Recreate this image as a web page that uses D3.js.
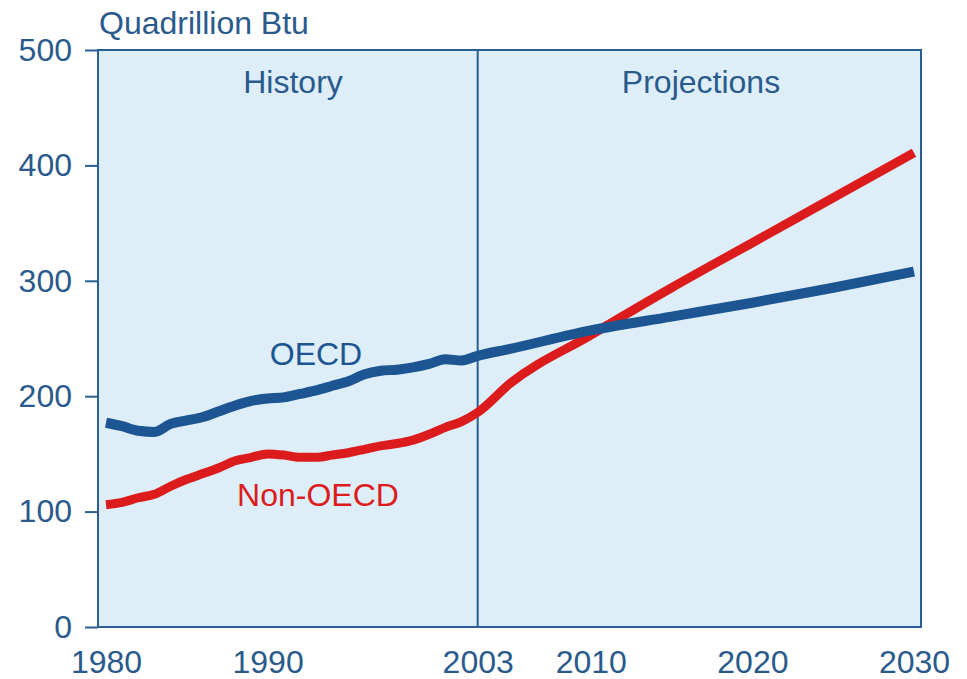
<!DOCTYPE html>
<html lang="en">
<head>
<meta charset="utf-8">
<style>
  body { margin: 0; background: white; }
  svg { font-family: "Liberation Sans", Arial, sans-serif; }
  .axis text { fill: #2a5a8c; font-size: 32px; }
  .axis path, .axis line { stroke: #2a5f93; stroke-width: 2px; }
  .label { font-size: 32px; }
  path.line { fill: none; stroke-linejoin: round; stroke-linecap: butt; }
</style>
</head>
<body>
<svg width="967" height="679"></svg>
<script src="https://d3js.org/d3.v7.min.js"></script>
<script>
  const years = [1980, 1981, 1982, 1983, 1984, 1985, 1986, 1987, 1988, 1989,
                 1990, 1991, 1992, 1993, 1994, 1995, 1996, 1997, 1998, 1999,
                 2000, 2001, 2002, 2003, 2005, 2010, 2015, 2020, 2025, 2030]
  const oecd = [177, 174, 170, 169, 176, 179, 182, 187, 192, 196,
                198, 199, 202, 205, 209, 213, 219, 222, 223, 225,
                228, 232, 231, 235, 241, 257, 269, 281, 294, 308]
  const nonOecd = [106, 108, 112, 115, 122, 128, 133, 138, 144, 147,
                   150, 149, 147, 147, 149, 151, 154, 157, 159, 162,
                   167, 173, 178, 186, 211, 253, 294, 333, 372, 411]
  const xTicks = [1980, 1990, 2003, 2010, 2020, 2030]
  const yTicks = [0, 100, 200, 300, 400, 500]

  const box = { left: 98, right: 921, top: 50, bottom: 627 }

  // data sits a little inside the frame on both sides
  const x = d3.scaleLinear().domain([1980, 2030]).range([box.left + 8, box.right - 7])
  const y = d3.scaleLinear().domain([0, 500]).range([box.bottom, box.top])

  const svg = d3.select("svg")

  // plot background
  svg.append("rect")
    .attr("x", box.left).attr("y", y(500))
    .attr("width", box.right - box.left).attr("height", y(0) - y(500))
    .attr("fill", "#ddeef9")
    .attr("stroke", "#2a5f93").attr("stroke-width", 2)

  // history / projections divider
  svg.append("line")
    .attr("x1", x(2003)).attr("x2", x(2003))
    .attr("y1", y(500)).attr("y2", y(0))
    .attr("stroke", "#2a5f93").attr("stroke-width", 2)

  const yAxis = d3.axisLeft(y).tickValues(yTicks).tickSize(13).tickPadding(13)
  svg.append("g")
    .attr("class", "axis y")
    .attr("transform", "translate(" + box.left + ",0)")
    .call(yAxis)
    .call(g => g.select(".domain").remove())

  const xAxis = d3.axisBottom(x).tickValues(xTicks).tickFormat(d3.format("d")).tickSize(0).tickPadding(23)
  svg.append("g")
    .attr("class", "axis x")
    .attr("transform", "translate(0," + y(0) + ")")
    .call(xAxis)
    .call(g => g.select(".domain").remove())

  const line = d3.line()
    .x((d, i) => x(years[i]))
    .y(d => y(d))
    .curve(d3.curveMonotoneX)

  svg.append("path").attr("class", "line")
    .attr("d", line(nonOecd))
    .attr("stroke", "#dc1c1c").attr("stroke-width", 9)

  svg.append("path").attr("class", "line")
    .attr("d", line(oecd))
    .attr("stroke", "#1c5592").attr("stroke-width", 10)

  svg.append("text").attr("class", "label")
    .attr("x", 99).attr("y", 34)
    .attr("fill", "#2a5a8c")
    .text("Quadrillion Btu")

  svg.append("text").attr("class", "label")
    .attr("x", 293).attr("y", 93)
    .attr("text-anchor", "middle")
    .attr("fill", "#2a5a8c")
    .text("History")

  svg.append("text").attr("class", "label")
    .attr("x", 701).attr("y", 93)
    .attr("text-anchor", "middle")
    .attr("fill", "#2a5a8c")
    .text("Projections")

  svg.append("text").attr("class", "label")
    .attr("x", 316).attr("y", 365)
    .attr("text-anchor", "middle")
    .attr("fill", "#1c5592")
    .text("OECD")

  svg.append("text").attr("class", "label")
    .attr("x", 318).attr("y", 506)
    .attr("text-anchor", "middle")
    .attr("fill", "#dc1c1c")
    .text("Non-OECD")
</script>
</body>
</html>
